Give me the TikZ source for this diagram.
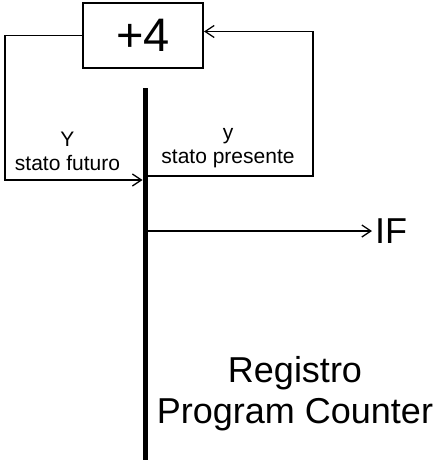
\documentclass[tikz,border=0pt]{standalone}
\usepackage{fontspec}
\setmainfont{Liberation Sans}
\usetikzlibrary{arrows.meta}
\begin{document}
\begin{tikzpicture}[x=1pt,y=-1pt,
  arr/.style={line width=1.3pt,-{Straight Barb[length=9pt,width=12pt,line width=1.3pt]}},
  blockbox/.style={draw,line width=2pt,minimum width=120pt,minimum height=65pt,inner sep=0pt,font=\fontsize{47}{50}\selectfont},
  regbar/.style={fill=black,draw=none,minimum width=5.5pt,minimum height=372pt,inner sep=0pt},
  smalllbl/.style={align=center,inner sep=0pt,font=\fontsize{21}{24}\selectfont},
  biglbl/.style={align=center,inner sep=0pt,font=\fontsize{36}{41}\selectfont}]
\useasboundingbox (0,0) rectangle (447,466);
\node[blockbox] (box) at (143,35.5) {+4};
\node[regbar] (pc) at (145.5,274) {};
\coordinate (lc1) at (5,35.5);
\coordinate (lc2) at (5,180);
\coordinate (rc1) at (313,176);
\coordinate (rc2) at (313,31.5);
\node[biglbl,anchor=west,inner xsep=3pt] (if) at (372,231) {IF};
\node[smalllbl,anchor=north] (fut) at (67.5,131.7) {Y\\stato futuro};
\node[smalllbl,anchor=north] (pres) at (228,128.3) {y\\stato presente};
\node[biglbl,anchor=north] (reg) at (295,356.7) {Registro\\Program Counter};
\draw[arr] (box.west) -- (lc1) -- (lc2) -- (pc.west |- lc2);
\draw[arr] (pc.east |- rc1) -- (rc1) -- (rc2) -- (box.east |- rc2);
\draw[arr] (pc.east |- if) -- (if.west);
\end{tikzpicture}
\end{document}
